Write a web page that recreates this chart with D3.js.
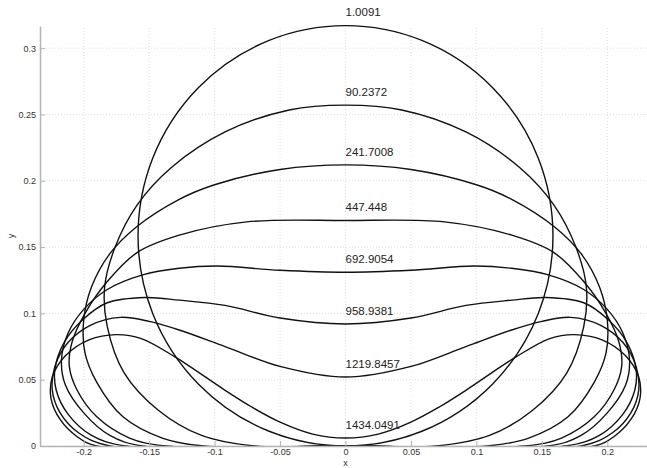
<!DOCTYPE html>
<html>
<head>
<meta charset="utf-8">
<script src="https://cdn.jsdelivr.net/npm/d3@7"></script>
<style>
  body { margin: 0; background: #fff; }
  .tick text { font-family: "Liberation Sans", Arial, sans-serif; font-size: 9px; fill: #333; }
</style>
</head>
<body>
<svg id="chart" width="647" height="468"></svg>
<script>
'use strict';
/* values (x, y in data units) */
var xTicks = [-0.2, -0.15, -0.1, -0.05, 0, 0.05, 0.1, 0.15, 0.2];
var yTicks = [0, 0.05, 0.1, 0.15, 0.2, 0.25, 0.3];

var loadLabels = ['1.0091', '90.2372', '241.7008', '447.448', '692.9054', '958.9381', '1219.8457', '1434.0491'];

// first shape is (almost) a circle resting on y = 0
var circleShape = { cx: 0, cy: 0.1585, r: 0.1585 };

// right halves, from the top at x = 0 round to the contact point on y = 0
var shape90 = [[0, 0.257], [0.043, 0.2534], [0.092, 0.2368], [0.133, 0.21], [0.159, 0.182], [0.176, 0.15],
  [0.184, 0.12], [0.182, 0.09], [0.169, 0.055], [0.143, 0.027], [0.11, 0.008], [0.069, 0]];
var shape241 = [[0, 0.212], [0.05, 0.2085], [0.1, 0.197], [0.127, 0.186], [0.16, 0.165], [0.18, 0.145],
  [0.194, 0.12], [0.2, 0.095], [0.199, 0.07], [0.19, 0.048], [0.17, 0.022], [0.14, 0.006], [0.108, 0]];
var shape447 = [[0, 0.17], [0.0755, 0.169], [0.127, 0.159], [0.159, 0.146], [0.182, 0.124], [0.199, 0.1],
  [0.209, 0.078], [0.211, 0.06], [0.205, 0.042], [0.19, 0.022], [0.165, 0.006], [0.137, 0]];
var shape692 = [[0, 0.131], [0.05, 0.1325], [0.098, 0.1357], [0.127, 0.134], [0.155, 0.129], [0.182, 0.118],
  [0.2, 0.103], [0.212, 0.085], [0.217, 0.065], [0.214, 0.046], [0.2, 0.025], [0.18, 0.008], [0.155, 0]];
var shape958 = [[0, 0.092], [0.05, 0.0965], [0.092, 0.106], [0.127, 0.11], [0.153, 0.112], [0.182, 0.108],
  [0.201, 0.095], [0.215, 0.078], [0.222, 0.058], [0.221, 0.042], [0.212, 0.024], [0.194, 0.008], [0.168, 0]];
var shape1219 = [[0, 0.052], [0.05, 0.06], [0.092, 0.075], [0.127, 0.0875], [0.15, 0.094], [0.172, 0.097],
  [0.195, 0.091], [0.212, 0.078], [0.222, 0.06], [0.224, 0.042], [0.218, 0.025], [0.204, 0.01], [0.18, 0]];
var shape1434 = [[0, 0.006], [0.025, 0.009], [0.05, 0.018], [0.072, 0.0296], [0.092, 0.042], [0.13, 0.067],
  [0.156, 0.081], [0.175, 0.084], [0.196, 0.08], [0.214, 0.068], [0.224, 0.052], [0.225, 0.036],
  [0.218, 0.02], [0.205, 0.007], [0.19, 0]];

var halves = [shape90, shape241, shape447, shape692, shape958, shape1219, shape1434];

var svg = d3.select('#chart');

var x = d3.scaleLinear().domain([-0.2334, 0.2334]).range([40, 651]);
var y = d3.scaleLinear().domain([0, 0.3167]).range([446, 26]);

var fmt = function(d) { return String(+d.toFixed(2)); };

svg.append('defs').append('clipPath').attr('id', 'plotclip')
  .append('rect').attr('x', 0).attr('y', 0).attr('width', 647).attr('height', y(0));

/* grid */
var grid = svg.append('g').attr('stroke', '#d6d6d6').attr('stroke-width', 0.8).attr('stroke-dasharray', '1,2');
grid.selectAll('line.gx').data(xTicks).enter().append('line')
  .attr('x1', function(d) { return x(d); }).attr('x2', function(d) { return x(d); })
  .attr('y1', y.range()[0]).attr('y2', y.range()[1]);
grid.selectAll('line.gy').data(yTicks).enter().append('line')
  .attr('y1', function(d) { return y(d); }).attr('y2', function(d) { return y(d); })
  .attr('x1', x.range()[0]).attr('x2', x.range()[1]);

/* closed outline from a right half: mirror it about x = 0 */
var outline = function(half) {
  var pts = half.slice();
  pts.push([0, 0]);
  for (var i = half.length - 1; i > 0; i--) {
    pts.push([-half[i][0], half[i][1]]);
  }
  return pts;
};

var line = d3.line()
  .x(function(d) { return x(d[0]); })
  .y(function(d) { return y(d[1]); })
  .curve(d3.curveCatmullRomClosed.alpha(0.5));

var curves = svg.append('g').attr('clip-path', 'url(#plotclip)')
  .attr('fill', 'none').attr('stroke', '#111').attr('stroke-width', 1.4);

curves.append('ellipse')
  .attr('cx', x(circleShape.cx))
  .attr('cy', y(circleShape.cy))
  .attr('rx', x(circleShape.r) - x(0))
  .attr('ry', y(0) - y(circleShape.r));

curves.selectAll('path').data(halves).enter().append('path')
  .attr('d', function(d) { return line(outline(d)); });

/* axes */
var xAxis = svg.append('g').attr('transform', 'translate(0,' + y(0) + ')')
  .call(d3.axisBottom(x).tickValues(xTicks).tickFormat(fmt).tickSizeInner(-5).tickSizeOuter(0).tickPadding(3));
var yAxis = svg.append('g').attr('transform', 'translate(' + x.range()[0] + ',0)')
  .call(d3.axisLeft(y).tickValues(yTicks).tickFormat(fmt).tickSizeInner(-5).tickSizeOuter(0).tickPadding(4));
[xAxis, yAxis].forEach(function(a) {
  a.select('.domain').attr('stroke', '#b4b4b4').attr('stroke-width', 1.5);
  a.selectAll('.tick line').attr('stroke', '#b4b4b4');
});

svg.append('text').attr('x', (x.range()[0] + x.range()[1]) / 2).attr('y', 466)
  .attr('text-anchor', 'middle').attr('font-family', 'Liberation Sans, Arial, sans-serif')
  .attr('font-size', 9).attr('fill', '#333').text('x');
svg.append('text').attr('transform', 'translate(14,' + (y.range()[0] + y.range()[1]) / 2 + ') rotate(-90)')
  .attr('text-anchor', 'middle').attr('font-family', 'Liberation Sans, Arial, sans-serif')
  .attr('font-size', 9).attr('fill', '#333').text('y');

/* load labels just above each top at x = 0 */
var tops = [circleShape.cy + circleShape.r].concat(halves.map(function(h) { return h[0][1]; }));
svg.append('g').selectAll('text').data(loadLabels).enter().append('text')
  .attr('x', x(0))
  .attr('y', function(d, i) { return y(tops[i] + 0.01); })
  .attr('dy', '0.35em')
  .attr('font-family', 'Liberation Sans, Arial, sans-serif')
  .attr('font-size', 11.5)
  .attr('fill', '#222')
  .text(function(d) { return d; });
</script>
</body>
</html>
